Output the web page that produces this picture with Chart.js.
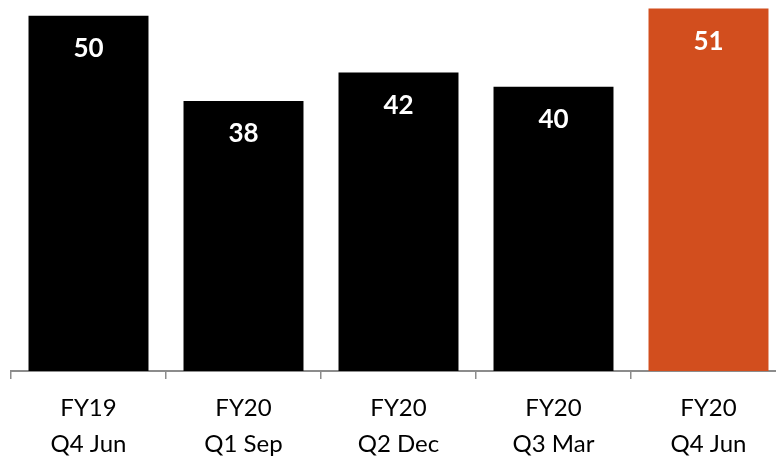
<!DOCTYPE html>
<html>
<head>
<meta charset="utf-8">
<script src="https://cdn.jsdelivr.net/npm/chart.js@4/dist/chart.umd.min.js"></script>
<style>
  html, body { margin: 0; padding: 0; background: #ffffff; overflow: hidden; }
  #wrap { position: relative; width: 790px; height: 457px; }
</style>
</head>
<body>
<div id="wrap"><canvas id="c"></canvas></div>
<script>
// Quarterly values, FY19 Q4 through FY20 Q4
const categories = [
  ['FY19', 'Q4 Jun'],
  ['FY20', 'Q1 Sep'],
  ['FY20', 'Q2 Dec'],
  ['FY20', 'Q3 Mar'],
  ['FY20', 'Q4 Jun']
];
const values = [50, 38, 42, 40, 51];
const barColors = ['#000000', '#000000', '#000000', '#000000', '#D24E1E'];

// Writes each bar's value in white just below the top of the bar
const valueLabels = {
  id: 'valueLabels',
  afterDatasetsDraw(chart) {
    const ctx = chart.ctx;
    const meta = chart.getDatasetMeta(0);
    ctx.save();
    ctx.fillStyle = '#ffffff';
    ctx.font = 'bold 26px Lato, "Open Sans", sans-serif';
    ctx.textAlign = 'center';
    ctx.textBaseline = 'middle';
    meta.data.forEach((bar, i) => {
      ctx.fillText(String(chart.data.datasets[0].data[i]), bar.x, bar.y + 33);
    });
    ctx.restore();
  }
};

new Chart(document.getElementById('c'), {
  type: 'bar',
  data: {
    labels: categories,
    datasets: [{
      data: values,
      backgroundColor: barColors,
      borderWidth: 0,
      categoryPercentage: 0.774,
      barPercentage: 1.0
    }]
  },
  options: {
    responsive: true,
    maintainAspectRatio: false,
    animation: false,
    devicePixelRatio: 1,
    layout: { padding: { left: 11, right: 4, top: 0, bottom: -16 } },
    plugins: {
      legend: { display: false },
      tooltip: { enabled: false }
    },
    scales: {
      x: {
        grid: {
          display: true,
          drawOnChartArea: false,
          drawTicks: true,
          tickLength: 8,
          color: '#8c8c8c',
          lineWidth: 1.5,
          offset: true
        },
        border: { display: true, color: '#8c8c8c', width: 2 },
        ticks: {
          color: '#000000',
          padding: 11,
          maxRotation: 0,
          autoSkip: false,
          font: { family: 'Lato, "Open Sans", sans-serif', size: 24, lineHeight: 1.5 }
        }
      },
      y: {
        display: false,
        min: 0,
        max: 52.2
      }
    }
  },
  plugins: [valueLabels]
});
</script>
</body>
</html>
